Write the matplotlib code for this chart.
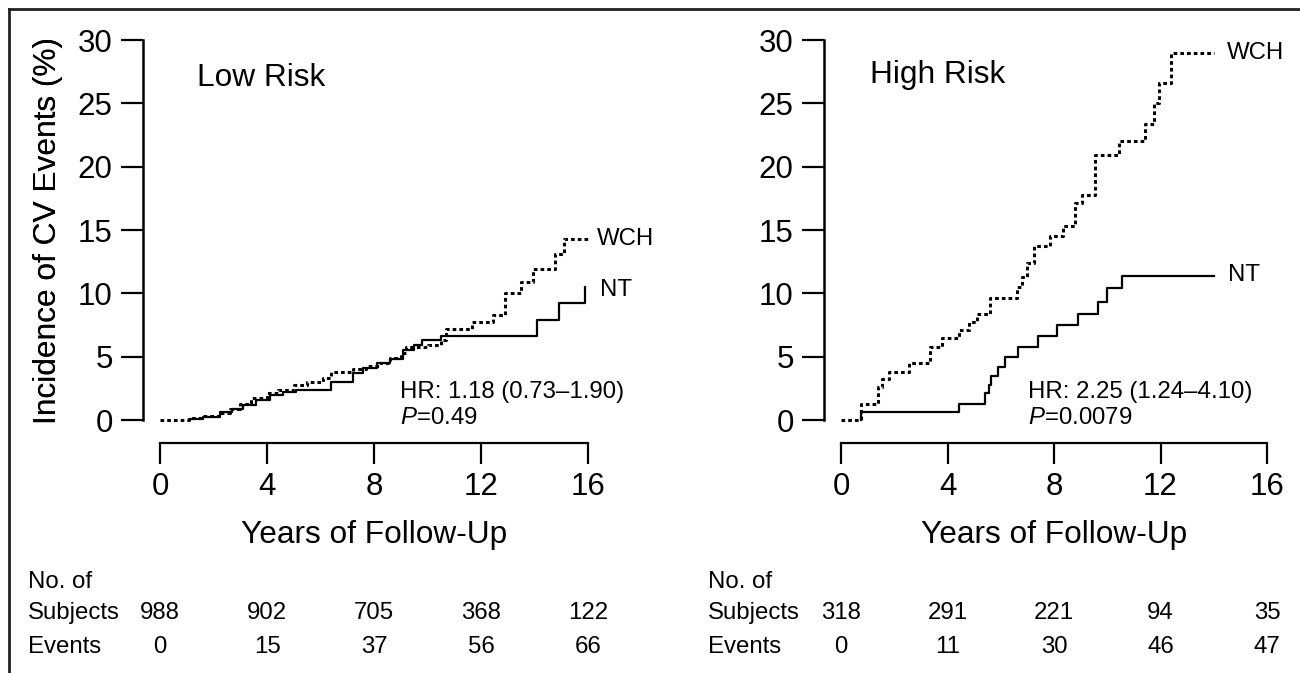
import matplotlib
matplotlib.use('Agg')
import matplotlib.pyplot as plt
import matplotlib.transforms as mtransforms
from matplotlib.lines import Line2D

plt.rcParams['font.family'] = ['Liberation Sans', 'DejaVu Sans']
plt.rcParams['mathtext.fontset'] = 'custom'
plt.rcParams['mathtext.it'] = 'Liberation Sans:italic'
plt.rcParams['mathtext.rm'] = 'Liberation Sans'

# ---- data ----
years_ticks = [0, 4, 8, 12, 16]

# low risk
low_wch_t = [0, 1.1, 1.6, 2.2, 2.6, 3.0, 3.4, 4.0, 4.4, 5.0, 5.5, 6.1, 6.4, 7.2, 7.7, 8.2,
             8.6, 9.0, 9.2, 10.0, 10.5, 10.7, 11.65, 12.45, 12.9, 13.5, 13.95, 14.75, 15.1, 16.0]
low_wch_y = [0, 0.15, 0.3, 0.55, 0.9, 1.3, 1.7, 2.1, 2.4, 2.75, 3.0, 3.3, 3.8, 4.05, 4.3, 4.5,
             4.9, 5.3, 5.8, 5.95, 6.3, 7.2, 7.75, 8.3, 10.0, 10.9, 11.9, 13.1, 14.3, 14.3]
low_nt_t = [1.1, 1.1, 1.6, 2.25, 2.7, 3.1, 3.6, 4.1, 4.6, 5.1, 6.4, 7.2, 7.6, 8.1, 8.6,
            9.1, 9.5, 9.8, 10.5, 14.1, 14.9, 15.9]
low_nt_y = [0, 0.1, 0.25, 0.65, 0.9, 1.2, 1.6, 2.0, 2.2, 2.4, 3.0, 3.7, 4.1, 4.5, 4.8,
            5.5, 5.9, 6.3, 6.6, 7.9, 9.2, 10.5]
low_subjects = [988, 902, 705, 368, 122]
low_events = [0, 15, 37, 56, 66]

# high risk
high_wch_t = [0, 0.75, 1.4, 1.55, 1.8, 2.55, 3.35, 3.8, 4.45, 4.8, 5.1, 5.6, 6.6, 6.8, 7.0,
              7.25, 7.85, 8.35, 8.8, 9.05, 9.55, 10.45, 11.4, 11.75, 11.95, 12.4, 14.0]
high_wch_y = [0, 1.3, 2.6, 3.2, 3.8, 4.5, 5.8, 6.45, 7.1, 7.75, 8.4, 9.6, 10.5, 11.3, 12.4,
              13.7, 14.5, 15.3, 17.1, 17.8, 20.9, 22.0, 23.4, 25.0, 26.6, 29.0, 29.0]
high_nt_t = [0.75, 0.75, 4.45, 5.4, 5.55, 5.65, 5.9, 6.15, 6.65, 7.4, 8.1, 8.9, 9.65, 10.0, 10.55, 14.0]
high_nt_y = [0, 0.6, 1.3, 2.1, 2.8, 3.5, 4.2, 5.0, 5.8, 6.6, 7.5, 8.4, 9.3, 10.4, 11.4, 11.4]
high_subjects = [318, 291, 221, 94, 35]
high_events = [0, 11, 30, 46, 47]

W, H = 1300, 673
PT = 72 / 100.0   # points per pixel
SMALL = 17.3

fig = plt.figure(figsize=(W / 100, H / 100), dpi=100)


def make_axes(x0, x1, y_top, y_bot):
    ax = fig.add_axes([x0 / W, 1 - y_bot / H, (x1 - x0) / W, (y_bot - y_top) / H])
    ax.set_xlim(0, 16)
    ax.set_ylim(0, 30)
    ax.patch.set_visible(False)
    for s in ['top', 'right']:
        ax.spines[s].set_visible(False)
    ax.spines['left'].set_position(('outward', 17 * PT))
    ax.spines['bottom'].set_position(('outward', 23 * PT))
    ax.spines['left'].set_bounds(0, 30)
    ax.spines['bottom'].set_bounds(0, 16)
    ax.spines['left'].set_linewidth(1.8)
    ax.spines['bottom'].set_linewidth(1.6)
    ax.set_xticks(years_ticks)
    ax.set_yticks([0, 5, 10, 15, 20, 25, 30])
    ax.tick_params(axis='y', direction='out', length=22 * PT, width=1.6, pad=6, labelsize=22.5)
    ax.tick_params(axis='x', direction='out', length=21 * PT, width=1.6, pad=6, labelsize=22.5)
    ax.set_ylabel('Incidence of CV Events (%)', fontsize=22.8, va='center')
    ax.yaxis.set_label_coords((48 - x0) / (x1 - x0), 0.5)
    ax.set_xlabel('Years of Follow-Up', fontsize=22.8, va='center')
    ax.xaxis.set_label_coords(0.5, (y_bot - 535) / (y_bot - y_top))
    return ax


def draw_panel(ax, wch_t, wch_y, nt_t, nt_y, title, hr, p, wch_lab, nt_lab, subjects, events, lab_x):
    ax.step(wch_t, wch_y, where='post', color='black', lw=2.2, linestyle=(0, (1.2, 1.0)), clip_on=False)
    ax.step(nt_t, nt_y, where='post', color='black', lw=1.6, clip_on=False)
    ax.text(title[1], title[2], title[0], fontsize=22.8, va='center', ha='left')
    ax.text(hr[1], hr[2], hr[0], fontsize=SMALL, va='center', ha='left')
    ax.text(hr[1], hr[2] - 2.05, p, fontsize=SMALL, va='center', ha='left')
    ax.text(wch_lab[0], wch_lab[1], 'WCH', fontsize=SMALL, va='center', ha='left')
    ax.text(nt_lab[0], nt_lab[1], 'NT', fontsize=SMALL, va='center', ha='left')

    trans = mtransforms.blended_transform_factory(ax.transData, fig.transFigure)
    for x, n, e in zip(years_ticks, subjects, events):
        ax.text(x, 1 - 613 / H, str(n), transform=trans, fontsize=SMALL, ha='center', va='center')
        ax.text(x, 1 - 647 / H, str(e), transform=trans, fontsize=SMALL, ha='center', va='center')
    fig.text(lab_x / W, 1 - 582 / H, 'No. of', fontsize=SMALL, ha='left', va='center')
    fig.text(lab_x / W, 1 - 613 / H, 'Subjects', fontsize=SMALL, ha='left', va='center')
    fig.text(lab_x / W, 1 - 647 / H, 'Events', fontsize=SMALL, ha='left', va='center')


ax1 = make_axes(160, 588, 40, 420)
ax2 = make_axes(841, 1267, 40, 420)

draw_panel(ax1, low_wch_t, low_wch_y, low_nt_t, low_nt_y,
           ('Low Risk', 1.38, 27.0), ('HR: 1.18 (0.73\u20131.90)', 8.97, 2.2), r'$\mathit{P}$=0.49',
           (16.35, 14.3), (16.45, 10.3), low_subjects, low_events, 28)
draw_panel(ax2, high_wch_t, high_wch_y, high_nt_t, high_nt_y,
           ('High Risk', 1.09, 27.2), ('HR: 2.25 (1.24\u20134.10)', 7.03, 2.2), r'$\mathit{P}$=0.0079',
           (14.5, 29.0), (14.55, 11.44), high_subjects, high_events, 708)

# outer frame (top and left only)
fig.add_artist(Line2D([9 / W, 1], [1 - 9 / H, 1 - 9 / H], transform=fig.transFigure, color='#222222', lw=2))
fig.add_artist(Line2D([9 / W, 9 / W], [0, 1 - 9 / H], transform=fig.transFigure, color='#222222', lw=2))

fig.savefig('out.png', dpi=100)
